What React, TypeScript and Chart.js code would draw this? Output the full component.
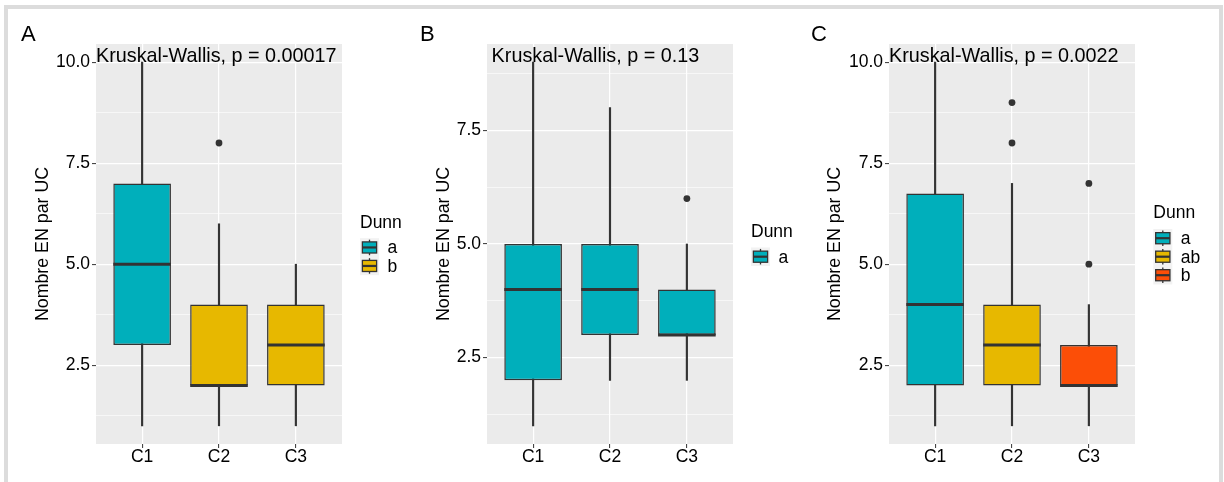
import React, { useEffect, useRef } from 'react';
import { Chart, registerables } from 'chart.js';

Chart.register(...registerables);

// ---------- data ----------
const categories = ['C1', 'C2', 'C3'];
const dunnColors = ['#00AFBB', '#E7B800', '#FC4E07'];
const yTitle = 'Nombre EN par UC';
const legendTitle = 'Dunn';
const majorTicks = [2.5, 5, 7.5, 10];
const minorTicks = [1.25, 3.75, 6.25, 8.75];

// Panel A
const aLow = [1, 1, 1];
const aQ1 = [3, 2, 2];
const aMedian = [5, 2, 3];
const aQ3 = [7, 4, 4];
const aHigh = [10, 6, 5];
const aOutliers = [[], [8], []];
const aDunn = ['a', 'b', 'b'];
const aLevels = ['a', 'b'];
const aStat = 'Kruskal-Wallis, p = 0.00017';

// Panel B
const bLow = [1, 2, 2];
const bQ1 = [2, 3, 3];
const bMedian = [4, 4, 3];
const bQ3 = [5, 5, 4];
const bHigh = [9, 8, 5];
const bOutliers = [[], [], [6]];
const bDunn = ['a', 'a', 'a'];
const bLevels = ['a'];
const bStat = 'Kruskal-Wallis, p = 0.13';

// Panel C
const cLow = [1, 1, 1];
const cQ1 = [2, 2, 2];
const cMedian = [4, 3, 2];
const cQ3 = [6.75, 4, 3];
const cHigh = [10, 7, 4];
const cOutliers = [[], [8, 9], [5, 7]];
const cDunn = ['a', 'ab', 'b'];
const cLevels = ['a', 'ab', 'b'];
const cStat = 'Kruskal-Wallis, p = 0.0022';

// ---------- layout / style ----------
const FONT = '"Liberation Sans", Arial, Helvetica, sans-serif';
const H = 482;
const TICK_SIZE = 17.5;
const TITLE_SIZE = 17.8;
const LEGEND_SIZE = 17.5;
const STAT_SIZE = 19.8;
const LETTER_SIZE = 22;
const INK = '#333333';

const panels = [
  {
    letter: 'A', low: aLow, q1: aQ1, median: aMedian, q3: aQ3, high: aHigh, outliers: aOutliers,
    dunn: aDunn, levels: aLevels, stat: aStat,
    canvasLeft: 8, canvasWidth: 402, plotLeft: 96, plotRight: 342, plotTop: 44, plotBottom: 444,
    yTitleX: 43.3, letterX: 21, legendLeft: 360, statX: 0.4,
  },
  {
    letter: 'B', low: bLow, q1: bQ1, median: bMedian, q3: bQ3, high: bHigh, outliers: bOutliers,
    dunn: bDunn, levels: bLevels, stat: bStat,
    canvasLeft: 410, canvasWidth: 394, plotLeft: 487, plotRight: 733, plotTop: 44, plotBottom: 444,
    yTitleX: 443.7, letterX: 420, legendLeft: 751, statX: 0.46,
  },
  {
    letter: 'C', low: cLow, q1: cQ1, median: cMedian, q3: cQ3, high: cHigh, outliers: cOutliers,
    dunn: cDunn, levels: cLevels, stat: cStat,
    canvasLeft: 804, canvasWidth: 414, plotLeft: 889, plotRight: 1135, plotTop: 44, plotBottom: 444,
    yTitleX: 835.5, letterX: 811, legendLeft: 1153.3, statX: 0.4,
  },
];

function Panel({ p }: { p: any }) {
  const ref = useRef<HTMLCanvasElement>(null);

  useEffect(() => {
    const canvas = ref.current!;
    const allVals = [...p.low, ...p.high, ...p.outliers.flat()];
    const dmin = Math.min(...allVals);
    const dmax = Math.max(...allVals);
    const ex = (dmax - dmin) * 0.05;
    const yMin = dmin - ex;
    const yMax = dmax + ex;
    const ox = p.canvasLeft;
    const W = p.canvasWidth;
    const plotL = p.plotLeft - ox;
    const plotR = p.plotRight - ox;
    const titleLH = TITLE_SIZE * 1.2;
    const padLeft = p.yTitleX - ox - titleLH / 2;
    const colorOf = (g: string) => dunnColors[p.levels.indexOf(g)];
    const yTickVals = [...majorTicks, ...minorTicks]
      .filter((v) => v >= yMin && v <= yMax)
      .sort((a, b) => a - b);
    const isMinor = (v: any) => minorTicks.includes(v);

    const deco = {
      id: 'boxDeco',
      beforeDraw(chart: any) {
        const { ctx, chartArea: a } = chart;
        ctx.save();
        ctx.fillStyle = '#EBEBEB';
        ctx.fillRect(a.left, a.top, a.right - a.left, a.bottom - a.top);
        ctx.restore();
      },
      afterDatasetsDraw(chart: any) {
        const { ctx } = chart;
        const ys = chart.scales.y;
        const meta = chart.getDatasetMeta(0);
        ctx.save();
        ctx.strokeStyle = INK;
        ctx.lineWidth = 3;
        meta.data.forEach((bar: any, i: number) => {
          const { x, width } = bar.getProps(['x', 'width'], true);
          const y = ys.getPixelForValue(p.median[i]);
          ctx.beginPath();
          ctx.moveTo(x - width / 2, y);
          ctx.lineTo(x + width / 2, y);
          ctx.stroke();
        });
        ctx.restore();
      },
      afterDraw(chart: any) {
        const { ctx } = chart;
        const xs = chart.scales.x;
        const ys = chart.scales.y;
        ctx.save();
        // stat label
        ctx.fillStyle = '#000';
        ctx.textAlign = 'left';
        ctx.textBaseline = 'alphabetic';
        ctx.font = `${STAT_SIZE}px ${FONT}`;
        ctx.fillText(p.stat, xs.getPixelForValue(p.statX), ys.getPixelForValue(dmax));
        // panel letter
        ctx.font = `${LETTER_SIZE}px ${FONT}`;
        ctx.fillText(p.letter, p.letterX - ox, 41);
        // legend
        const keyH = 18.5;
        const keyW = 19;
        const kx = p.legendLeft - ox;
        const n = p.levels.length;
        const keysTop = 256.7 - (n * keyH) / 2;
        ctx.font = `${LEGEND_SIZE}px ${FONT}`;
        ctx.fillText(legendTitle, kx, keysTop - 10.6);
        ctx.fillStyle = '#F2F2F2';
        ctx.fillRect(kx, keysTop, keyW, n * keyH);
        p.levels.forEach((lev: string, i: number) => {
          const ty = keysTop + i * keyH;
          const cx = kx + keyW / 2;
          ctx.strokeStyle = INK;
          ctx.lineWidth = 1.3;
          ctx.beginPath();
          ctx.moveTo(cx, ty + 0.08 * keyH);
          ctx.lineTo(cx, ty + 0.92 * keyH);
          ctx.stroke();
          ctx.fillStyle = dunnColors[i];
          const bx = kx + 0.125 * keyW;
          const by = ty + 0.2 * keyH;
          const bw = 0.75 * keyW;
          const bh = 0.6 * keyH;
          ctx.fillRect(bx, by, bw, bh);
          ctx.strokeRect(bx, by, bw, bh);
          ctx.lineWidth = 2.2;
          ctx.beginPath();
          ctx.moveTo(bx, ty + keyH / 2);
          ctx.lineTo(bx + bw, ty + keyH / 2);
          ctx.stroke();
          ctx.fillStyle = '#000';
          ctx.textBaseline = 'middle';
          ctx.font = `${LEGEND_SIZE}px ${FONT}`;
          ctx.fillText(lev, kx + 27.5, ty + keyH / 2 + 1);
          ctx.textBaseline = 'alphabetic';
        });
        ctx.restore();
      },
    };

    const chart = new Chart(canvas, {
      type: 'bar',
      data: {
        datasets: [
          {
            type: 'bar',
            label: 'box',
            data: categories.map((c, i) => ({ x: i + 1, y: [p.q1[i], p.q3[i]] })),
            backgroundColor: p.dunn.map(colorOf),
            borderColor: INK,
            borderWidth: 1.5,
            borderSkipped: false,
            grouped: false,
            categoryPercentage: 1,
            barPercentage: 0.75,
            order: 1,
          } as any,
          {
            type: 'bar',
            label: 'whisker',
            data: categories.map((c, i) => ({ x: i + 1, y: [p.low[i], p.high[i]] })),
            backgroundColor: INK,
            borderWidth: 0,
            grouped: false,
            barThickness: 1.5,
            order: 2,
          } as any,
          {
            type: 'scatter',
            label: 'outliers',
            data: p.outliers.flatMap((vals: number[], i: number) => vals.map((v) => ({ x: i + 1, y: v }))),
            pointRadius: 3.4,
            backgroundColor: INK,
            borderWidth: 0,
            order: 0,
          } as any,
        ],
      },
      options: {
        animation: false,
        responsive: false,
        events: [],
        layout: { padding: { left: padLeft, right: W - plotR, top: p.plotTop, bottom: 0 } },
        plugins: { legend: { display: false }, tooltip: { enabled: false }, title: { display: false } },
        scales: {
          x: {
            type: 'linear',
            min: 0.4,
            max: categories.length + 0.6,
            offset: false,
            bounds: 'data',
            afterBuildTicks: (s: any) => {
              s.ticks = categories.map((c, i) => ({ value: i + 1 }));
            },
            afterFit: (s: any) => {
              s.height = H - p.plotBottom;
            },
            ticks: {
              callback: (v: any) => categories[Math.round(v) - 1] ?? '',
              font: { family: FONT, size: TICK_SIZE, lineHeight: 1 },
              color: '#000',
              padding: 0,
              autoSkip: false,
              maxRotation: 0,
            },
            grid: { offset: false, color: '#ffffff', lineWidth: 1.2, tickLength: 4, tickColor: INK, tickWidth: 1 },
            border: { display: false },
          },
          y: {
            type: 'linear',
            min: yMin,
            max: yMax,
            bounds: 'data',
            beginAtZero: false,
            afterBuildTicks: (s: any) => {
              s.ticks = yTickVals.map((v) => ({ value: v }));
            },
            afterFit: (s: any) => {
              s.width = plotL - padLeft;
            },
            ticks: {
              callback: (v: any) => (isMinor(v) ? '' : Number(v).toFixed(1)),
              font: { family: FONT, size: TICK_SIZE, lineHeight: 1.2 },
              color: '#000',
              padding: 2,
              autoSkip: false,
            },
            grid: {
              offset: false,
              color: '#ffffff',
              lineWidth: (ctx: any) => (isMinor(ctx.tick && ctx.tick.value) ? 0.6 : 1.2),
              tickLength: 4,
              tickColor: (ctx: any) => (isMinor(ctx.tick && ctx.tick.value) ? 'rgba(0,0,0,0)' : INK),
              tickWidth: 1,
            },
            border: { display: false },
            title: {
              display: true,
              text: yTitle,
              font: { family: FONT, size: TITLE_SIZE, lineHeight: 1.2 },
              color: '#000',
              padding: 0,
            },
          },
        },
      } as any,
      plugins: [deco],
    });

    return () => chart.destroy();
  }, [p]);

  return (
    <canvas
      ref={ref}
      width={p.canvasWidth}
      height={H}
      style={{ position: 'absolute', left: p.canvasLeft, top: 0, width: p.canvasWidth, height: H }}
    />
  );
}

export default function App() {
  return (
    <div
      style={{
        position: 'absolute',
        left: 0,
        top: 0,
        width: 1224,
        height: H,
        overflow: 'hidden',
        background: '#ffffff',
      }}
    >
      <div
        style={{
          position: 'absolute',
          left: 4,
          top: 5,
          width: 1211,
          height: 600,
          border: '4px solid #dcdcdc',
        }}
      />
      {panels.map((p) => (
        <Panel key={p.letter} p={p} />
      ))}
    </div>
  );
}
